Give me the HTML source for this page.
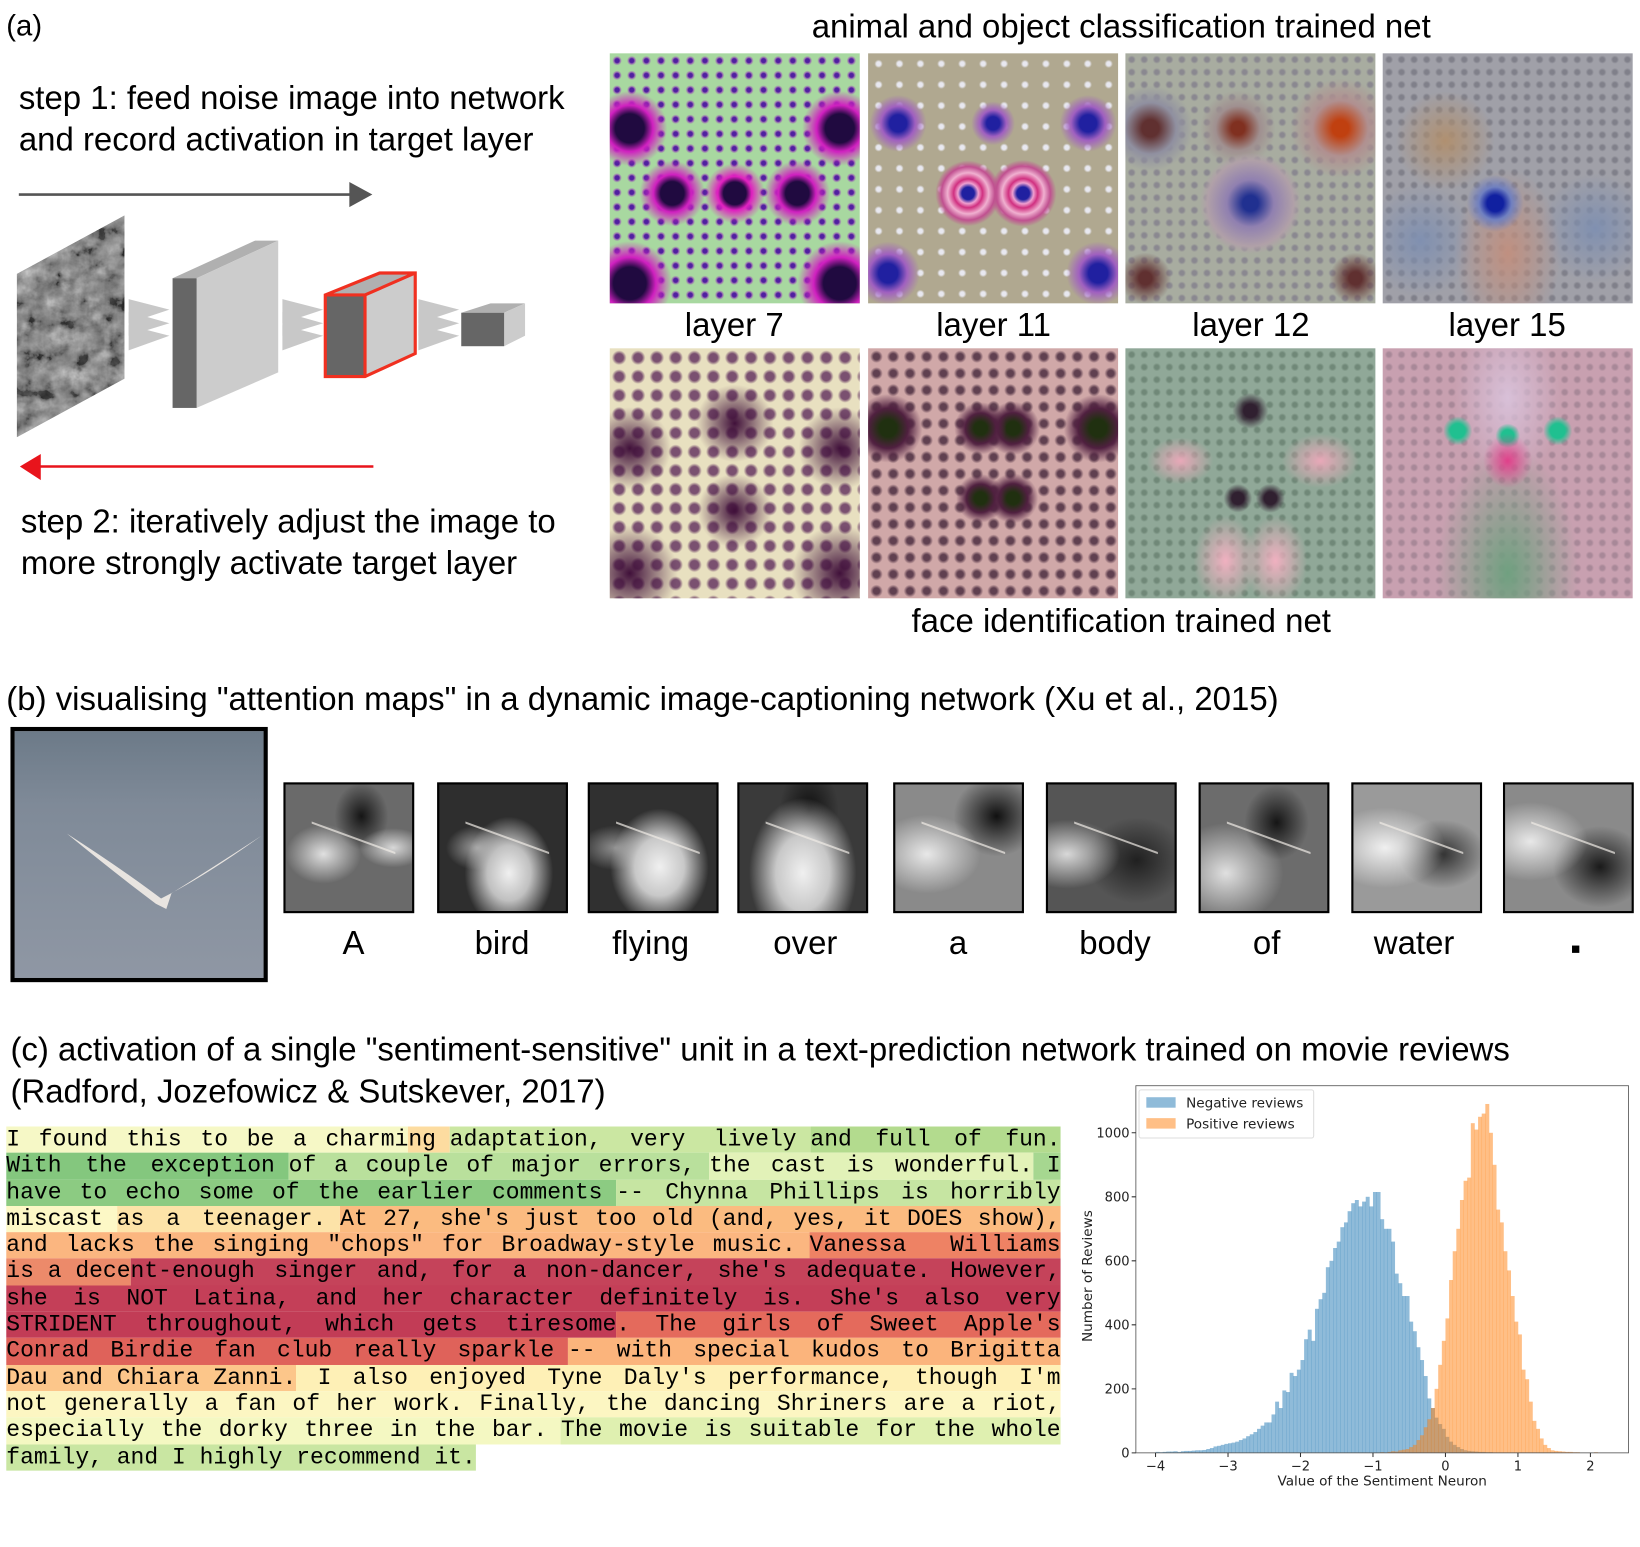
<!DOCTYPE html>
<html><head><meta charset="utf-8"><style>
html,body{margin:0;padding:0;background:#fff;width:1640px;height:1547px;overflow:hidden}
#wrap{position:absolute;left:0;top:0;width:1568px;height:1479px;transform:scale(1.04592,1.04597);transform-origin:0 0;font-family:"Liberation Sans",sans-serif;color:#000}
.t{position:absolute;white-space:nowrap;font-size:31.5px;line-height:34px}
.c{transform:translateX(-50%)}
.img{position:absolute;width:239px;height:239px;overflow:hidden}
.att{position:absolute;top:748px;width:121px;height:121px;border:2px solid #000;background:#3a3a3a}
.att i{position:absolute;left:25px;top:50px;width:80px;height:2px;border-top:2px solid rgba(240,235,230,.7);transform:skewY(20deg)}
#passage{position:absolute;left:6px;top:1077px;width:1008px;font-family:"Liberation Mono",monospace;font-size:22px}
.ln{height:25.3px;line-height:25.3px;text-align:justify;text-align-last:justify;white-space:nowrap;display:flex}
.ln span{white-space:pre;flex:1 1 auto}
</style></head><body>
<div id="wrap">
<div class="t" style="left:6px;top:8px;font-size:28px">(a)</div>
<div class="t c" style="left:1072px;top:8px">animal and object classification trained net</div>
<div class="t" style="left:18px;top:76px">step 1: feed noise image into network</div>
<div class="t" style="left:18px;top:116px">and record activation in target layer</div>

<svg style="position:absolute;left:0;top:160px" width="580" height="310" viewBox="0 160 580 310">
<defs><filter id="nz"><feTurbulence type="fractalNoise" baseFrequency="0.06" numOctaves="4" seed="3"/><feColorMatrix type="saturate" values="0"/><feComponentTransfer><feFuncR type="linear" slope="2.2" intercept="-0.75"/><feFuncG type="linear" slope="2.2" intercept="-0.75"/><feFuncB type="linear" slope="2.2" intercept="-0.75"/></feComponentTransfer></filter>
<clipPath id="nc"><polygon points="16,262 119,206 119,362 16,418"/></clipPath></defs>
<line x1="18" y1="186" x2="338" y2="186" stroke="#555" stroke-width="2.5"/>
<polygon points="334,174 356,186 334,198" fill="#555"/>
<g clip-path="url(#nc)"><rect x="16" y="200" width="104" height="220" fill="#777"/><rect x="16" y="200" width="104" height="220" fill="#888" filter="url(#nz)" opacity="0.9"/></g>
<g fill="#bbb" opacity="0.8"><polygon points="123,286 162,296 123,309"/><polygon points="123,298 162,309 123,321"/><polygon points="123,311 162,321 123,335"/>
<polygon points="270,286 309,296 270,309"/><polygon points="270,298 309,309 270,321"/><polygon points="270,311 309,321 270,335"/>
<polygon points="400,286 439,296 400,309"/><polygon points="400,298 439,309 400,321"/><polygon points="400,311 439,321 400,335"/></g>
<g><polygon points="165,266 244,230 266,230 188,266" fill="#b0b0b0"/><polygon points="188,266 266,230 266,356 188,390" fill="#ccc"/><rect x="165" y="266" width="23" height="124" fill="#666"/></g>
<g><polygon points="311,282 363,261 397,261 349,282" fill="#b0b0b0"/><polygon points="349,282 397,261 397,338 349,360" fill="#ccc"/><rect x="311" y="282" width="38" height="78" fill="#666"/>
<path d="M311,282 L363,261 L397,261 L397,338 L349,360 L311,360 Z M311,282 L349,282 L397,261 M349,282 L349,360" fill="none" stroke="#f03020" stroke-width="3"/></g>
<g><polygon points="441,299 469,290 502,290 482,299" fill="#b0b0b0"/><polygon points="482,299 502,290 502,321 482,331" fill="#ccc"/><rect x="441" y="299" width="41" height="32" fill="#666"/></g>
<line x1="36" y1="446" x2="357" y2="446" stroke="#e8141c" stroke-width="2.5"/>
<polygon points="19,446 39,434 39,459" fill="#e8141c"/>
</svg>
<div class="t" style="left:20px;top:481px">step 2: iteratively adjust the image to</div>
<div class="t" style="left:20px;top:521px">more strongly activate target layer</div>

<div class="img" style="left:583px;top:51px;background:radial-gradient(circle at 50% 56%,#200a40 0 6%,#e020c0 9%,transparent 16%),radial-gradient(circle at 25% 56%,#200a40 0 5%,#d020c0 8%,transparent 14%),radial-gradient(circle at 75% 56%,#200a40 0 5%,#d020c0 8%,transparent 14%),radial-gradient(circle at 8% 30%,#200a40 0 5%,#d020c0 8%,transparent 13%),radial-gradient(circle at 92% 30%,#200a40 0 5%,#d020c0 8%,transparent 13%),radial-gradient(circle at 8% 92%,#200a40 0 5%,#d020c0 8%,transparent 13%),radial-gradient(circle at 92% 92%,#200a40 0 5%,#d020c0 8%,transparent 13%),radial-gradient(circle,#5020a0 0 2px,#9a70b0 3px,transparent 4.5px) 0 0/14px 14px,#a8d8a0"></div>
<div class="img" style="left:830px;top:51px;background:radial-gradient(circle at 40% 56%,#2020a0 0 3%,#f0a0d0 5%,#d03080 7%,#f0b0d0 10%,#c05090 13%,transparent 16%),radial-gradient(circle at 62% 56%,#2020a0 0 3%,#f0a0d0 5%,#d03080 7%,#f0b0d0 10%,#c05090 13%,transparent 16%),radial-gradient(circle at 12% 28%,#2020a0 0 3%,#a060c0 6%,transparent 10%),radial-gradient(circle at 50% 28%,#2020a0 0 3%,#a060c0 6%,transparent 10%),radial-gradient(circle at 88% 28%,#2020a0 0 3%,#a060c0 6%,transparent 10%),radial-gradient(circle at 8% 88%,#2020a0 0 3%,#a060c0 6%,transparent 10%),radial-gradient(circle at 92% 88%,#2020a0 0 3%,#a060c0 6%,transparent 10%),radial-gradient(circle,#e8e8f0 0 2px,transparent 4px) 0 0/20px 20px,#b0a890"></div>
<div class="img" style="left:1076px;top:51px;background:radial-gradient(circle at 50% 60%,#203090 0 4%,#9080b0 12%,#b0a0a8 22%,transparent 26%),radial-gradient(circle at 86% 30%,#c04010 0 3%,#b09090 10%,transparent 18%),radial-gradient(circle at 45% 30%,#803020 0 3%,#a09090 10%,transparent 17%),radial-gradient(circle at 10% 30%,#603030 0 3%,#9090a0 9%,transparent 15%),radial-gradient(circle at 8% 90%,#603030 0 2%,transparent 8%),radial-gradient(circle at 92% 90%,#603030 0 2%,transparent 8%),radial-gradient(circle,#8a8890 0 2px,transparent 4px) 0 0/12px 12px,#a8aca0"></div>
<div class="img" style="left:1322px;top:51px;background:radial-gradient(circle at 45% 60%,#1020a0 0 4%,#7080c0 8%,transparent 14%),radial-gradient(ellipse at 50% 80%,#c09080 0,transparent 30%),radial-gradient(circle at 25% 35%,#b09070 0,transparent 20%),radial-gradient(circle at 85% 70%,#8090b0 0,transparent 20%),radial-gradient(circle at 15% 75%,#8090b0 0,transparent 20%),radial-gradient(circle,#80808a 0 2px,transparent 4px) 0 0/12px 12px,#a0a0a8"></div>
<div class="t c" style="left:702px;top:293px">layer 7</div>
<div class="t c" style="left:950px;top:293px">layer 11</div>
<div class="t c" style="left:1196px;top:293px">layer 12</div>
<div class="t c" style="left:1441px;top:293px">layer 15</div>
<div class="img" style="left:583px;top:333px;background:radial-gradient(circle at 50% 30%,#40103a 0,transparent 18%),radial-gradient(circle at 50% 65%,#40103a 0,transparent 18%),radial-gradient(circle at 8% 40%,#40103a 0,transparent 15%),radial-gradient(circle at 92% 40%,#40103a 0,transparent 15%),radial-gradient(circle at 8% 90%,#40103a 0,transparent 15%),radial-gradient(circle at 92% 90%,#40103a 0,transparent 15%),radial-gradient(circle,#7a5070 0 4px,transparent 7px) 0 0/18px 18px,#e8e0c0"></div>
<div class="img" style="left:830px;top:333px;background:radial-gradient(circle at 45% 32%,#203010 0 3%,#502040 7%,transparent 12%),radial-gradient(circle at 58% 32%,#203010 0 3%,#502040 7%,transparent 12%),radial-gradient(circle at 45% 60%,#203010 0 3%,#502040 7%,transparent 12%),radial-gradient(circle at 58% 60%,#203010 0 3%,#502040 7%,transparent 12%),radial-gradient(circle at 8% 32%,#203010 0 3%,#502040 7%,transparent 12%),radial-gradient(circle at 92% 32%,#203010 0 3%,#502040 7%,transparent 12%),radial-gradient(circle,#604050 0 3px,transparent 6px) 0 0/16px 16px,#d0a8a8"></div>
<div class="img" style="left:1076px;top:333px;background:radial-gradient(ellipse at 40% 85%,#f0b0c0 0,transparent 15%),radial-gradient(ellipse at 60% 85%,#f0b0c0 0,transparent 15%),radial-gradient(ellipse at 78% 45%,#e8a8b8 0,transparent 14%),radial-gradient(ellipse at 22% 45%,#e8a8b8 0,transparent 12%),radial-gradient(circle at 50% 25%,#302030 0 3%,transparent 8%),radial-gradient(circle at 45% 60%,#302030 0 3%,transparent 7%),radial-gradient(circle at 58% 60%,#302030 0 3%,transparent 7%),radial-gradient(circle,#708878 0 2px,transparent 4px) 0 0/12px 12px,#90a898"></div>
<div class="img" style="left:1322px;top:333px;background:radial-gradient(ellipse at 50% 45%,#e0408a 0,transparent 14%),radial-gradient(circle at 30% 33%,#20c090 0 3%,transparent 6%),radial-gradient(circle at 50% 35%,#20c090 0 3%,transparent 6%),radial-gradient(circle at 70% 33%,#20c090 0 3%,transparent 6%),radial-gradient(ellipse at 50% 90%,#70a080 0,transparent 40%),radial-gradient(ellipse at 50% 20%,#d8c0d8 0,transparent 30%),radial-gradient(circle,#a88898 0 2px,transparent 4px) 0 0/12px 12px,#c8a0b0"></div>
<div class="t c" style="left:1072px;top:576px">face identification trained net</div>

<div class="t" style="left:6px;top:651px">(b) visualising "attention maps" in a dynamic image-captioning network (Xu et al., 2015)</div>
<div style="position:absolute;left:10px;top:695px;width:238px;height:236px;border:4px solid #000;background:linear-gradient(180deg,#6c7a88 0%,#7f8a98 30%,#8f97a4 100%)">
<svg width="238" height="236" style="position:absolute;left:0;top:0"><path d="M50,98 Q100,130 140,160 Q180,140 236,100 Q190,130 150,155 L145,170 L135,165 Q95,135 50,98Z" fill="#e8e4e0"/></svg></div>
<div class="att" style="left:271px;background:radial-gradient(ellipse at 30% 55%,#e0e0e0 0,transparent 30%),radial-gradient(ellipse at 85% 50%,#d8d8d8 0,transparent 22%),radial-gradient(ellipse at 60% 25%,#151515 0,transparent 25%),#6a6a6a"><i></i></div>
<div class="att" style="left:418px;background:radial-gradient(ellipse at 55% 70%,#f0f0f0 0,#c0c0c0 22%,transparent 45%),radial-gradient(ellipse at 30% 50%,#a0a0a0 0,transparent 25%),#2e2e2e"><i></i></div>
<div class="att" style="left:562px;background:radial-gradient(ellipse at 55% 65%,#f0f0f0 0,#c8c8c8 25%,transparent 50%),radial-gradient(ellipse at 20% 50%,#909090 0,transparent 25%),#303030"><i></i></div>
<div class="att" style="left:705px;background:radial-gradient(ellipse at 50% 70%,#f0f0f0 0,#c8c8c8 30%,transparent 60%),radial-gradient(ellipse at 55% 20%,#101010 0,transparent 30%),#3a3a3a"><i></i></div>
<div class="att" style="left:854px;background:radial-gradient(ellipse at 25% 55%,#e8e8e8 0,transparent 40%),radial-gradient(ellipse at 80% 25%,#101010 0,transparent 30%),#8a8a8a"><i></i></div>
<div class="att" style="left:1000px;background:radial-gradient(ellipse at 15% 55%,#d8d8d8 0,transparent 35%),radial-gradient(ellipse at 70% 60%,#202020 0,transparent 40%),#555"><i></i></div>
<div class="att" style="left:1146px;background:radial-gradient(ellipse at 20% 70%,#e0e0e0 0,transparent 40%),radial-gradient(ellipse at 60% 30%,#151515 0,transparent 30%),#6c6c6c"><i></i></div>
<div class="att" style="left:1292px;background:radial-gradient(ellipse at 25% 50%,#f0f0f0 0,transparent 45%),radial-gradient(ellipse at 70% 55%,#303030 0,transparent 35%),#9a9a9a"><i></i></div>
<div class="att" style="left:1437px;background:radial-gradient(ellipse at 20% 45%,#e8e8e8 0,transparent 40%),radial-gradient(ellipse at 75% 65%,#1a1a1a 0,transparent 35%),#8a8a8a"><i></i></div>
<div class="t c" style="left:338px;top:884px">A</div>
<div class="t c" style="left:480px;top:884px">bird</div>
<div class="t c" style="left:622px;top:884px">flying</div>
<div class="t c" style="left:770px;top:884px">over</div>
<div class="t c" style="left:916px;top:884px">a</div>
<div class="t c" style="left:1066px;top:884px">body</div>
<div class="t c" style="left:1211px;top:884px">of</div>
<div class="t c" style="left:1352px;top:884px">water</div>
<div style="position:absolute;left:1503px;top:904px;width:7px;height:7px;background:#000"></div>

<div class="t" style="left:10px;top:986px">(c) activation of a single "sentiment-sensitive" unit in a text-prediction network trained on movie reviews</div>
<div class="t" style="left:10px;top:1026px">(Radford, Jozefowicz &amp; Sutskever, 2017)</div>

<div id="passage">
<div class="ln"><span style="background:#f6f8c6">I found this to be a charmi</span><span style="background:#fddca0;flex:0 0 auto">ng </span><span style="background:#cbe7a2">adaptation, very lively </span><span style="background:#b3db8e">and full of fun.</span></div>
<div class="ln"><span style="background:#84c77e">With the exception </span><span style="background:#b9e09c">of a couple of major errors, </span><span style="background:#e2f2b8">the cast is wonderful.</span><span style="background:#a6d790;flex:0 0 auto"> I</span></div>
<div class="ln"><span style="background:#8ccb82">have to echo some of the earlier comments </span><span style="background:#c6e5a2">-- Chynna Phillips is horribly</span></div>
<div class="ln"><span style="background:#fdf8c6;flex:0 0 auto">miscast </span><span style="background:#fde3a8">as a teenager. </span><span style="background:#fbbb80">At 27, she's just too old (and, yes, it DOES show),</span></div>
<div class="ln"><span style="background:#fbb680">and lacks the singing "chops" for Broadway-style music. </span><span style="background:#ee8264">Vanessa Williams</span></div>
<div class="ln"><span style="background:#ec8a6a;flex:0 0 auto">is a dece</span><span style="background:#c5435a">nt-enough singer and, for a non-dancer, she's adequate. However,</span></div>
<div class="ln"><span style="background:#c43f58">she is NOT Latina, and her character definitely is. She's also very</span></div>
<div class="ln"><span style="background:#c23c56">STRIDENT throughout, which gets tiresome</span><span style="background:#e46a5c">. The girls of Sweet Apple's</span></div>
<div class="ln"><span style="background:#df625a">Conrad Birdie fan club really sparkle </span><span style="background:#fbb47c">-- with special kudos to Brigitta</span></div>
<div class="ln"><span style="background:#fcc68a;flex:0 0 auto">Dau and Chiara Zanni.</span><span style="background:#fef0b6"> I also enjoyed Tyne Daly's performance, though I'm</span></div>
<div class="ln"><span style="background:#fcf6c2">not generally a fan of her work. Finally, the dancing Shriners are a riot,</span></div>
<div class="ln"><span style="background:#f4f8c2">especially the dorky three in the bar. </span><span style="background:#dff0b0">The movie is suitable for the whole</span></div>
<div class="ln" style="text-align-last:left;display:block"><span style="background:#c9e6a2">family, and I highly recommend it.</span></div>
</div>

<svg id="chart" style="position:absolute;left:1020px;top:1020px" width="548" height="420"></svg>
</div>
<script>
const binWidth = 0.05;
const negStart = -4.0;
const negCounts = [3,2,3,4,4,5,3,5,6,6,7,8,8,9,12,15,20,22,25,28,30,32,35,40,45,52,58,65,75,85,95,95,120,160,140,195,190,250,240,260,290,355,385,350,450,480,500,580,600,640,660,705,720,755,780,790,770,785,800,770,815,815,730,700,700,660,560,530,490,490,410,380,330,290,240,170,140,110,90,75,50,35,25,18,12,8,6,5,4,3,3,2,2,1];
const posStart = -1.0;
const posCounts = [1,1,2,1,3,5,4,8,10,12,18,25,40,55,80,105,140,200,275,350,420,540,630,700,790,850,860,1030,1010,1050,1060,1090,1000,900,760,720,630,570,490,410,370,260,230,160,100,75,45,25,15,8,6,5,4,3,3,2,2,1,1,1,1,2,1];
const xTicks = [-4,-3,-2,-1,0,1,2];
const yTicks = [0,200,400,600,800,1000];
const legendLabels = ["Negative reviews","Positive reviews"];

const NS="http://www.w3.org/2000/svg";
const svg=document.getElementById('chart');
const OX=1020, OY=1020;
const L=1086-OX, R=1557-OX, T=1038-OY, B=1389-OY;
const xs=v=>(1382-OX)+v*69.3;
const ys=v=>B-v*0.306;
function mk(tag,attrs){const e=document.createElementNS(NS,tag);for(const k in attrs)e.setAttribute(k,attrs[k]);svg.appendChild(e);return e;}
function drawHist(start,counts,color,name){
  counts.forEach((c,i)=>{
    const x0=xs(start+i*binWidth), x1=xs(start+(i+1)*binWidth);
    const r=mk('rect',{x:x0,y:ys(c),width:x1-x0+0.3,height:B-ys(c),fill:color,'fill-opacity':0.5});
    
    
  });
}
drawHist(negStart,negCounts,'#1f77b4','negative-bar');
drawHist(posStart,posCounts,'#ff7f0e','positive-bar');
const frame=mk('rect',{x:L,y:T,width:R-L,height:B-T,fill:'none',stroke:'#555','stroke-width':0.8});


xTicks.forEach(v=>{
  mk('line',{x1:xs(v),x2:xs(v),y1:B,y2:B+4,stroke:'#333'});
  const t=mk('text',{x:xs(v),y:B+17,'font-size':12.5,'text-anchor':'middle','font-family':'DejaVu Sans,sans-serif',fill:'#222'});
  t.textContent=(v<0?'\u2212'+(-v):v);
  
  
});
yTicks.forEach(v=>{
  mk('line',{x1:L-4,x2:L,y1:ys(v),y2:ys(v),stroke:'#333'});
  const t=mk('text',{x:L-6,y:ys(v)+4.5,'font-size':12.5,'text-anchor':'end','font-family':'DejaVu Sans,sans-serif',fill:'#222'});
  t.textContent=v;
  
  
});
const xl=mk('text',{x:(L+R)/2,y:B+31,'font-size':13,'text-anchor':'middle','font-family':'DejaVu Sans,sans-serif',fill:'#222'});
xl.textContent='Value of the Sentiment Neuron';


const yl=mk('text',{x:0,y:0,'font-size':13,'text-anchor':'middle','font-family':'DejaVu Sans,sans-serif',fill:'#222',transform:`translate(${1044-OX},${1220-OY}) rotate(-90)`});
yl.textContent='Number of Reviews';


const lg=mk('rect',{x:L+3,y:T+4,width:167,height:46,fill:'#fff','fill-opacity':0.85,stroke:'#ddd',rx:2});


legendLabels.forEach((lab,i)=>{
  mk('rect',{x:L+10,y:T+11+i*20,width:28,height:10,fill:i?'#ff7f0e':'#1f77b4','fill-opacity':0.5});
  const t=mk('text',{x:L+48,y:T+21+i*20,'font-size':13,'font-family':'DejaVu Sans,sans-serif',fill:'#222'});
  t.textContent=lab;
  
  
});
</script>
</body></html>
